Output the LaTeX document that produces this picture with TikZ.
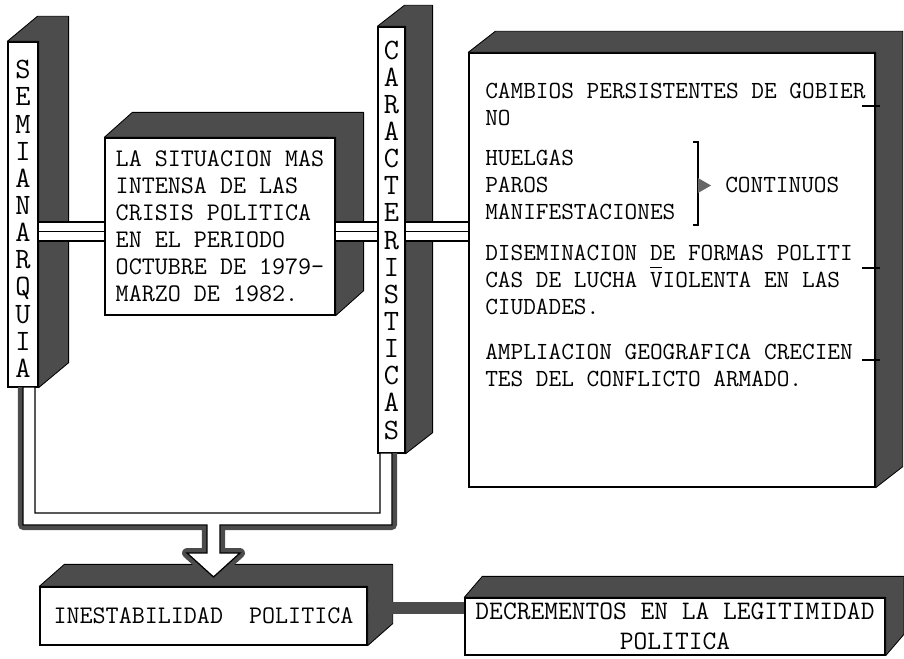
\documentclass[tikz,border=0pt]{standalone}

\begin{document}
\begin{tikzpicture}[x=0.025cm, y=-0.025cm,
  caja/.style={draw, fill=white, line width=0.9pt, inner sep=0pt},
  letras/.style={caja, align=center, font=\ttfamily\fontsize{21}{19.3}\selectfont},
  maquina/.style={font=\ttfamily\fontsize{18}{19.2}\selectfont},
  lista/.style={anchor=west, align=left, inner sep=0pt, font=\ttfamily\fontsize{17.5}{19.2}\selectfont},
  lado/.style={fill=black!70, draw=black, line width=0.6pt, line join=round},
  enlace/.style={line width=0.8pt},
  tubo/.style={draw=black!70, line width=0.25cm, line join=round},
  barra/.style={draw=black!70, line width=0.3cm}]
  \useasboundingbox (0,0) rectangle (904,659);

  % cajas
  \node[letras, minimum width=0.75cm, minimum height=8.625cm] (semi) at (23,214.5) {\mbox{}\\S\\E\\M\\I\\A\\N\\A\\R\\Q\\U\\I\\A};
  \node[caja, maquina, align=left, minimum width=5.75cm, minimum height=4.425cm] (mid) at (220,226.5) {LA SITUACION MAS\\INTENSA DE LAS\\CRISIS POLITICA\\EN EL PERIODO\\OCTUBRE DE 1979-\\MARZO DE 1982.};
  \node[letras, minimum width=0.675cm, minimum height=10.65cm] (carac) at (391.5,240) {C\\A\\R\\A\\C\\T\\E\\R\\I\\S\\T\\I\\C\\A\\S};
  \node[caja, minimum width=10.15cm, minimum height=10.85cm] (list) at (672,270) {};
  \node[caja, maquina, minimum width=8.175cm, minimum height=1.45cm] (inest) at (203.5,616) {INESTABILIDAD~~POLITICA};
  \node[caja, align=center, minimum width=10.5cm, minimum height=1.425cm, font=\ttfamily\fontsize{19}{21.3}\selectfont] (decr) at (675,626.5) {DECREMENTOS EN LA LEGITIMIDAD\\POLITICA};

  % caras oscuras
  \foreach \n/\dx/\dy in {semi/30/25, mid/28/25, carac/27/21, list/27/21, inest/25/22, decr/18/21}
    \filldraw[lado] (\n.north west) -- ++(\dx,-\dy) -- ([shift={(\dx,-\dy)}]\n.north east)
      -- ([shift={(\dx,-\dy)}]\n.south east) -- (\n.south east) -- (\n.north east) -- cycle;

  % texto de la lista
  \node[lista] (cambios) at (485,104.5) {CAMBIOS PERSISTENTES DE GOBIER\\NO};
  \node[lista] (paros) at (485,185) {HUELGAS\\PAROS\\MANIFESTACIONES};
  \node[lista] (disem) at (485,280) {DISEMINACION DE FORMAS POLITI\\CAS DE LUCHA \rlap{\raisebox{0.78em}{\rule{0.5em}{0.06em}}}VIOLENTA EN LAS\\CIUDADES.};
  \node[lista] (ampl) at (485,365) {AMPLIACION GEOGRAFICA CRECIEN\\TES DEL CONFLICTO ARMADO.};
  \node[lista] (cont) at (725,185) {CONTINUOS};
  \draw[enlace] (693,142) -- (698,142) -- (698,225) -- (693,225);
  \fill[black!60] (698,178) -- (711,185.5) -- (698,193) -- cycle;
  \draw[enlace] (862,106) -- (880,106) (862,268) -- (880,268) (862,360) -- (880,360);

  % enlaces triples
  \foreach \a/\b in {semi/mid, mid/carac, carac/list} {
    \fill[white] (\a.east |- 0,222) rectangle (\b.west |- 0,241);
    \foreach \y in {222,231.5,241}
      \draw[enlace] (\a.east |- 0,\y) -- (\b.west |- 0,\y);
  }

  % tubo hacia inestabilidad
  \coordinate (semibajo) at (29,387);
  \coordinate (caracbajo) at (386,453);
  \coordinate (punta) at (213.5,577);
  \draw[tubo] (23,387) |- (207,525) -- (207,553) -- (187,553) -- (punta) -- (240,553)
    -- (220,553) -- (220,525) -| (392,453);
  \filldraw[fill=white, line width=0.9pt] (23,387) |- (207,525) -- (207,553) -- (187,553) -- (punta)
    -- (240,553) -- (220,553) -- (220,525) -| (392,453) -- (380,453) |- (35,513) -- (35,387) -- cycle;

  \draw[barra] ([yshift=0.2cm]inest.east) -- ([yshift=0.2cm]inest.east -| decr.west);
\end{tikzpicture}
\end{document}
